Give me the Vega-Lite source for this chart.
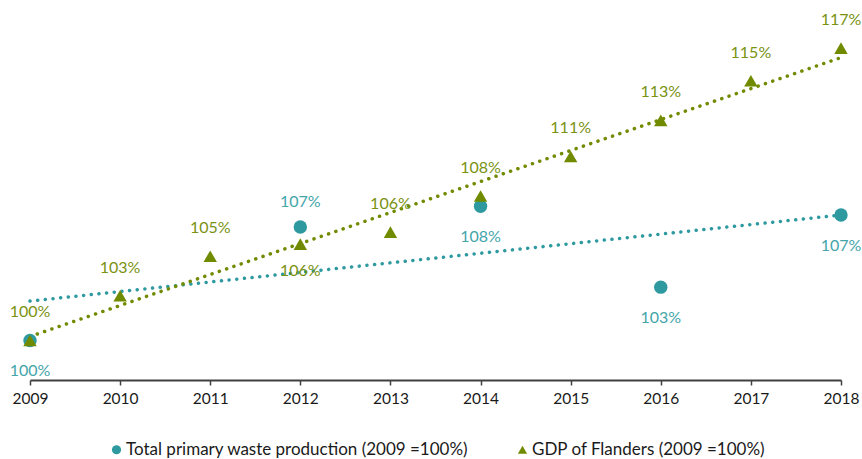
{
  "$schema": "https://vega.github.io/schema/vega-lite/v6.json",
  "width": 811,
  "height": 380,
  "autosize": {"type": "none"},
  "padding": {"left": 30, "top": 0, "right": 21, "bottom": 79},
  "background": "white",
  "config": {
    "view": {"stroke": null},
    "font": "Lato",
    "legend": {"symbolSize": 85, "labelFontSize": 17, "labelColor": "#1a1a1a", "padding": 0, "labelOffset": 1, "labelLimit": 0}
  },
  "data": {
    "values": [
      {"year": 2009, "series": "Total primary waste production (2009 =100%)", "value": 1.000},
      {"year": 2012, "series": "Total primary waste production (2009 =100%)", "value": 1.066},
      {"year": 2014, "series": "Total primary waste production (2009 =100%)", "value": 1.078},
      {"year": 2016, "series": "Total primary waste production (2009 =100%)", "value": 1.031},
      {"year": 2018, "series": "Total primary waste production (2009 =100%)", "value": 1.073},
      {"year": 2009, "series": "GDP of Flanders (2009 =100%)", "value": 1.000},
      {"year": 2010, "series": "GDP of Flanders (2009 =100%)", "value": 1.026},
      {"year": 2011, "series": "GDP of Flanders (2009 =100%)", "value": 1.049},
      {"year": 2012, "series": "GDP of Flanders (2009 =100%)", "value": 1.056},
      {"year": 2013, "series": "GDP of Flanders (2009 =100%)", "value": 1.063},
      {"year": 2014, "series": "GDP of Flanders (2009 =100%)", "value": 1.084},
      {"year": 2015, "series": "GDP of Flanders (2009 =100%)", "value": 1.107},
      {"year": 2016, "series": "GDP of Flanders (2009 =100%)", "value": 1.128},
      {"year": 2017, "series": "GDP of Flanders (2009 =100%)", "value": 1.151},
      {"year": 2018, "series": "GDP of Flanders (2009 =100%)", "value": 1.170}
    ]
  },
  "encoding": {
    "x": {
      "field": "year", "type": "quantitative",
      "scale": {"domain": [2009, 2018], "nice": false, "zero": false},
      "axis": {
        "title": null, "grid": false, "format": "d",
        "values": [2009, 2010, 2011, 2012, 2013, 2014, 2015, 2016, 2017, 2018],
        "domainColor": "#404040", "domainWidth": 1.8,
        "tickColor": "#404040", "tickWidth": 1.5, "tickSize": 5,
        "labelFontSize": 15.5, "labelColor": "#1a1a1a", "labelPadding": 6, "labelFlush": false
      }
    },
    "y": {
      "field": "value", "type": "quantitative",
      "scale": {"domain": [0.977, 1.198], "nice": false, "zero": false},
      "axis": null
    }
  },
  "layer": [
    {
      "transform": [
        {"filter": "datum.series === 'Total primary waste production (2009 =100%)'"},
        {"regression": "value", "on": "year", "method": "linear", "extent": [2009, 2018]}
      ],
      "mark": {"type": "line", "color": "#2e9aa0", "strokeWidth": 3.5, "strokeDash": [0.1, 7.6], "strokeCap": "round"}
    },
    {
      "transform": [
        {"filter": "datum.series === 'GDP of Flanders (2009 =100%)'"},
        {"regression": "value", "on": "year", "method": "linear", "extent": [2009, 2018]}
      ],
      "mark": {"type": "line", "color": "#718b00", "strokeWidth": 3.5, "strokeDash": [0.1, 7.6], "strokeCap": "round"}
    },
    {
      "mark": {"type": "point", "filled": true, "opacity": 1, "size": 180},
      "encoding": {
        "color": {
          "field": "series", "type": "nominal",
          "scale": {"domain": ["Total primary waste production (2009 =100%)", "GDP of Flanders (2009 =100%)"], "range": ["#2e9aa0", "#718b00"]},
          "legend": {"title": null, "orient": "none", "direction": "horizontal", "legendX": 78, "legendY": 441, "columnPadding": 45}
        },
        "shape": {
          "field": "series", "type": "nominal",
          "scale": {"domain": ["Total primary waste production (2009 =100%)", "GDP of Flanders (2009 =100%)"], "range": ["circle", "triangle-up"]},
          "legend": {"title": null, "orient": "none", "direction": "horizontal", "legendX": 78, "legendY": 441, "columnPadding": 45}
        }
      }
    },
    {
      "transform": [{"filter": "datum.series === 'GDP of Flanders (2009 =100%)' && datum.year !== 2012"}],
      "mark": {"type": "text", "dy": -28, "fontSize": 16, "color": "#7a9212"},
      "encoding": {"text": {"field": "value", "format": ".0%"}}
    },
    {
      "transform": [{"filter": "datum.series === 'GDP of Flanders (2009 =100%)' && datum.year === 2012"}],
      "mark": {"type": "text", "dy": 27, "fontSize": 16, "color": "#7a9212"},
      "encoding": {"text": {"field": "value", "format": ".0%"}}
    },
    {
      "transform": [{"filter": "datum.series === 'Total primary waste production (2009 =100%)' && datum.year === 2012"}],
      "mark": {"type": "text", "dy": -25, "fontSize": 16, "color": "#44a5aa"},
      "encoding": {"text": {"field": "value", "format": ".0%"}}
    },
    {
      "transform": [{"filter": "datum.series === 'Total primary waste production (2009 =100%)' && datum.year !== 2012"}],
      "mark": {"type": "text", "dy": 31, "fontSize": 16, "color": "#44a5aa"},
      "encoding": {"text": {"field": "value", "format": ".0%"}}
    }
  ]
}
